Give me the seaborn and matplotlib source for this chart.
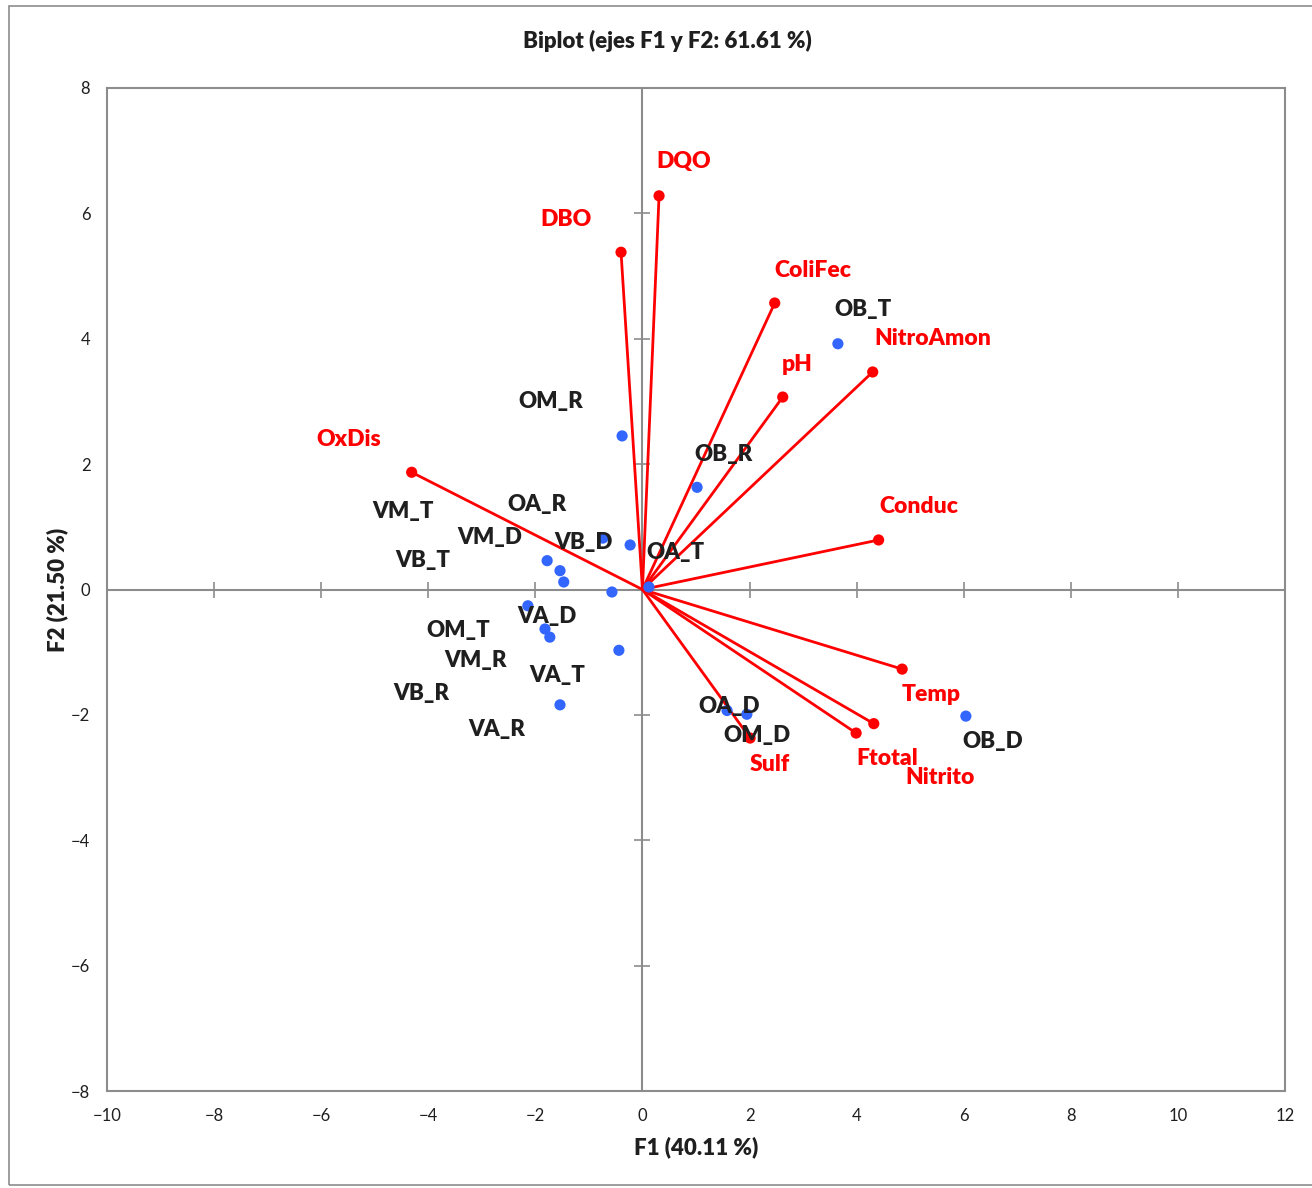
import matplotlib
matplotlib.use("Agg")
import matplotlib.pyplot as plt
import seaborn as sns
import pandas as pd
from matplotlib.patches import Rectangle

# ---- data ----
obs_names = ["OB_T", "OM_R", "OB_R", "OA_R", "VB_D", "VM_T", "VM_D", "VB_T", "VB_R",
             "OA_T", "OM_T", "VA_D", "VM_R", "VA_T", "VA_R", "OA_D", "OM_D", "OB_D"]
obs_f1 = [3.65, -0.38, 1.02, -0.74, -0.23, -1.78, -1.54, -1.47, -0.57,
          0.12, -2.14, -1.82, -1.73, -0.44, -1.54, 1.58, 1.95, 6.04]
obs_f2 = [3.92, 2.45, 1.63, 0.82, 0.71, 0.46, 0.30, 0.12, -0.04,
          0.04, -0.26, -0.63, -0.76, -0.97, -1.84, -1.93, -1.99, -2.02]

var_names = ["DQO", "DBO", "ColiFec", "NitroAmon", "pH", "OxDis", "Conduc",
             "Temp", "Nitrito", "Ftotal", "Sulf"]
var_f1 = [0.31, -0.40, 2.47, 4.30, 2.62, -4.31, 4.41, 4.85, 4.32, 3.99, 2.01]
var_f2 = [6.28, 5.38, 4.57, 3.47, 3.07, 1.87, 0.79, -1.27, -2.14, -2.29, -2.37]

x_ticks = [-10, -8, -6, -4, -2, 0, 2, 4, 6, 8, 10, 12]
y_ticks = [-8, -6, -4, -2, 0, 2, 4, 6, 8]

# ---- label layout (pixel offsets from the mark) ----
obs_label_off = {
    "OB_T": (25, 36), "OM_R": (-71, 36), "OB_R": (26, 35), "OA_R": (-66, 36),
    "VB_D": (-47, 4), "VM_T": (-144, 51), "VM_D": (-70, 35), "VB_T": (-141, 23),
    "VB_R": (-191, -99), "OA_T": (27, 36), "OM_T": (-70, -23), "VA_D": (2, 14),
    "VM_R": (-74, -21), "VA_T": (-62, -23), "VA_R": (-63, -23), "OA_D": (2, 6),
    "OM_D": (10, -19), "OB_D": (27, -23),
}
var_label_off = {
    "DQO": (25, 36), "DBO": (-55, 35), "ColiFec": (38, 35), "NitroAmon": (60, 35),
    "pH": (14, 35), "OxDis": (-63, 35), "Conduc": (40, 35), "Temp": (29, -23),
    "Nitrito": (66, -52), "Ftotal": (31, -23), "Sulf": (20, -24),
}
label_shift_y = -2  # fine vertical adjustment in pixels

sns.set_theme(style="white")
plt.rcParams["font.family"] = ["Lato", "DejaVu Sans"]

fig = plt.figure(figsize=(13.12, 11.88), dpi=100)
ax = fig.add_axes([107 / 1312, 1 - 1091 / 1188, (1285 - 107) / 1312, (1091 - 88) / 1188])

# outer chart border
fig.patches.append(Rectangle((9 / 1312, 3 / 1188), 1.2, 1 - 9 / 1188,
                             transform=fig.transFigure, fill=False,
                             edgecolor="#8c8c8c", linewidth=1.2))

ax.set_xlim(-10, 12)
ax.set_ylim(-8, 8)
for s in ax.spines.values():
    s.set_color("#8c8c8c")
    s.set_linewidth(1.5)

# zero axes with cross ticks
grey = "#8c8c8c"
ax.axhline(0, color=grey, lw=1.5, zorder=1)
ax.axvline(0, color=grey, lw=1.5, zorder=1)
ax.plot(x_ticks, [0] * len(x_ticks), linestyle="none", marker="|", markersize=12,
        markeredgewidth=1.2, color=grey, zorder=1)
ax.plot([0] * len(y_ticks), y_ticks, linestyle="none", marker="_", markersize=12,
        markeredgewidth=1.2, color=grey, zorder=1)

# variable vectors
red = "#ff0000"
for xv, yv in zip(var_f1, var_f2):
    ax.plot([0, xv], [0, yv], color=red, lw=2.0, zorder=2)

df_obs = pd.DataFrame({"F1": obs_f1, "F2": obs_f2, "name": obs_names})
df_var = pd.DataFrame({"F1": var_f1, "F2": var_f2, "name": var_names})
sns.scatterplot(data=df_obs, x="F1", y="F2", ax=ax, color="#3366ff", s=65,
                edgecolor="none", zorder=3)
sns.scatterplot(data=df_var, x="F1", y="F2", ax=ax, color=red, s=65,
                edgecolor="none", zorder=3)

for n, xv, yv in zip(obs_names, obs_f1, obs_f2):
    dx, dy = obs_label_off[n]
    ax.annotate(n, (xv, yv), xytext=(dx * 0.72, (dy + label_shift_y) * 0.72),
                textcoords="offset points", ha="center", va="center", fontsize=16,
                fontweight="heavy", color="#1f1f1f", zorder=4)
for n, xv, yv in zip(var_names, var_f1, var_f2):
    dx, dy = var_label_off[n]
    ax.annotate(n, (xv, yv), xytext=(dx * 0.72, (dy + label_shift_y) * 0.72),
                textcoords="offset points", ha="center", va="center", fontsize=16.5,
                fontweight="heavy", color=red, zorder=4)

ax.set_xticks(x_ticks)
ax.set_yticks(y_ticks)
ax.tick_params(axis="both", length=0, labelsize=12, colors="#1f1f1f", pad=12)
ax.set_xlabel("F1 (40.11 %)", fontsize=16, fontweight="heavy", labelpad=9, color="#1f1f1f")
ax.set_ylabel("F2 (21.50 %)", fontsize=16, fontweight="heavy", labelpad=2, color="#1f1f1f")
fig.suptitle("Biplot (ejes F1 y F2: 61.61 %)", x=667 / 1312,
             y=1 - 41 / 1188, va="center", fontsize=16, fontweight="heavy", color="#1f1f1f")

fig.savefig("out.png", dpi=100)
